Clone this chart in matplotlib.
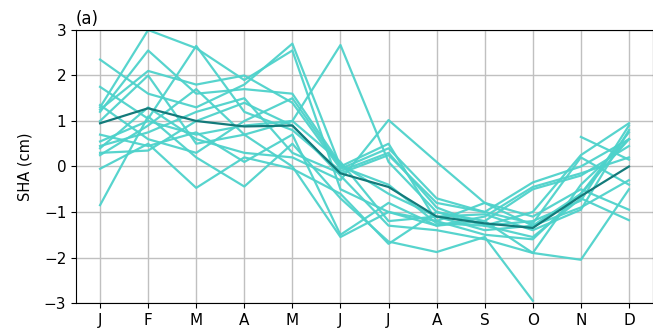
import numpy as np
import matplotlib
matplotlib.use("Agg")
import matplotlib.pyplot as plt

months = ["J", "F", "M", "A", "M", "J", "J", "A", "S", "O", "N", "D"]
nan = np.nan

series = [
    [2.35, 1.6, 1.3, 1.8, 2.7, 0.0, 0.5, -1.2, -1.5, -1.6, -0.6, 0.6],
    [1.75, 1.05, 2.65, 1.2, 0.8, -0.1, 0.3, -0.9, -1.3, -1.0, 0.25, 0.95],
    [1.3, 3.0, 2.6, 1.9, 2.55, -0.5, -1.0, -1.3, -1.2, -1.9, -2.05, -0.5],
    [1.2, 2.55, 1.6, 1.7, 1.6, 0.05, -0.6, -1.1, -1.4, -1.3, -0.6, 0.75],
    [1.25, 2.1, 1.8, 2.0, 1.4, -0.05, 0.4, -0.7, -1.0, -0.35, 0.0, 0.6],
    [0.55, 1.0, 0.7, 0.9, 1.0, 2.67, 0.1, -1.0, -1.2, -0.5, -0.2, 0.45],
    [0.4, 1.3, 0.6, 0.3, 0.2, -0.3, 1.02, 0.1, -0.8, -1.3, -0.9, -0.3],
    [0.3, 0.35, 1.0, 1.4, 0.9, -0.2, -1.3, -1.4, -1.6, -1.9, -0.4, 0.6],
    [-0.05, 0.5, -0.47, 0.2, -0.05, -0.6, -1.7, -1.0, -1.3, -1.55, -0.7, -1.18],
    [-0.85, 1.1, 0.2, -0.44, 0.5, -0.7, -1.65, -1.88, -1.55, -2.95, nan, nan],
    [0.7, 0.45, 0.75, 0.1, 0.7, -1.5, -0.8, -1.3, -1.1, -0.45, -0.15, 0.2],
    [0.25, 0.9, 1.7, 0.7, 0.0, -1.55, -1.0, -1.2, -0.8, -1.1, -0.5, -0.95],
    [1.35, 0.6, 0.3, 1.0, 1.5, 0.0, -0.4, -1.25, -1.3, -1.2, -0.75, 0.9],
    [0.45, 0.75, 1.2, 1.5, 0.3, -0.15, 0.25, -0.8, -1.0, -1.25, 0.2, -0.4],
    [nan, nan, nan, nan, nan, nan, nan, nan, nan, nan, 0.65, 0.15],
    [1.0, 2.0, 0.5, 0.7, 1.0, 0.1, -1.2, -1.1, -1.05, -1.4, -0.95, 0.8],
]

mean_line = [0.95, 1.28, 1.0, 0.88, 0.9, -0.15, -0.45, -1.1, -1.25, -1.35, -0.65, 0.0]

fig = plt.figure(figsize=(6.53, 3.35), dpi=100)
ax = fig.add_axes([0.1164, 0.0955, 0.8836, 0.815])

x = np.arange(len(months))
for s in series:
    ax.plot(x, s, color="#4ED2CB", lw=1.6, alpha=0.95, zorder=2)
ax.plot(x, mean_line, color="#137a7a", lw=1.6, zorder=3)

ax.set_xlim(-0.5, 11.5)
ax.set_ylim(-3, 3)
ax.set_xticks(x)
ax.set_xticklabels(months, fontsize=11)
ax.set_yticks([-3, -2, -1, 0, 1, 2, 3])
ax.set_yticklabels(["\u22123", "\u22122", "\u22121", "0", "1", "2", "3"], fontsize=11)
ax.grid(True, color="#c0c0c0", lw=1.0, zorder=0)
ax.set_axisbelow(True)
ax.set_ylabel("SHA (cm)", fontsize=10.5, labelpad=8)
ax.set_title("(a)", loc="left", fontsize=12, pad=4)

fig.savefig("out.png", dpi=100)
